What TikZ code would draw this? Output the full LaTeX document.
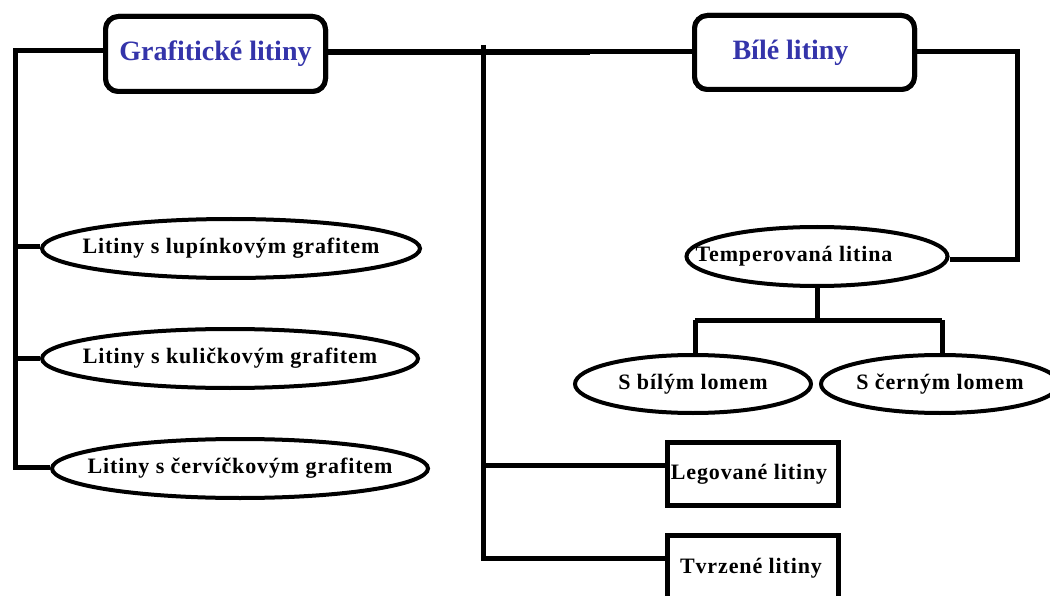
\documentclass[tikz,border=0pt]{standalone}
\usepackage{fontspec}
\setmainfont{Liberation Serif}
\newfontfamily\lbl[LetterSpace=4]{Liberation Serif}
\usetikzlibrary{shapes.geometric}
\definecolor{titleblue}{RGB}{52,52,170}
\newcommand{\zw}[1]{\makebox[0pt]{#1}}
\tikzset{
  conn/.style={line width=5pt, line join=miter},
  mainconn/.style={line width=6pt},
  titlebox/.style={draw, line width=5pt, rounded corners=13pt, fill=white,
    minimum width=220pt, inner sep=0pt,
    font=\fontsize{28}{30}\selectfont\bfseries, text=titleblue},
  oval/.style={draw, ellipse, line width=4pt, fill=white, inner sep=0pt,
    font=\lbl\fontsize{22}{24}\selectfont\bfseries},
  rectbox/.style={draw, line width=5pt, fill=white, inner sep=0pt,
    minimum width=171pt, font=\lbl\fontsize{22}{24}\selectfont\bfseries},
  plain/.style={inner sep=0pt, font=\lbl\fontsize{22}{24}\selectfont\bfseries}
}
\begin{document}
\begin{tikzpicture}[x=1pt,y=-1pt]
\useasboundingbox (0,0) rectangle (1050,596);
\clip (0,0) rectangle (1050,596);
\fill[white] (0,0) rectangle (1050,596);

% coordinates for connector corners
\coordinate (lt) at (15,51);
\coordinate (lb1) at (15,247);
\coordinate (lb2) at (15,358);
\coordinate (lb3) at (15,467);
\coordinate (mt) at (483,45);
\coordinate (mj) at (483,52);
\coordinate (m1) at (483,465);
\coordinate (m2) at (483,558);
\coordinate (rt) at (1017,52);
\coordinate (rb) at (1017,260);
\coordinate (tj) at (817,320);
\coordinate (tl) at (695,320);
\coordinate (tr) at (942,320);

% nodes
\node[titlebox, minimum height=75pt] (graf) at (215.5,54) {Grafitické litiny};
\node[titlebox, minimum height=74pt] (bile) at (804.5,52.5) {\hspace*{-28pt}Bílé litiny};

\node[oval, minimum width=378pt, minimum height=59pt] (e1) at (231,248.5) {\zw{Litiny s lupínkovým grafitem}};
\node[oval, minimum width=376pt, minimum height=59pt] (e2) at (230,358.5) {\zw{Litiny s kuličkovým grafitem}};
\node[oval, minimum width=376pt, minimum height=59pt] (e3) at (240,468.5) {\zw{Litiny s červíčkovým grafitem}};

\node[oval, minimum width=261pt, minimum height=59pt] (temp) at (817,256.5) {\hspace*{-46pt}\zw{Temperovaná litina}};

\node[oval, minimum width=236pt, minimum height=58pt] (bily) at (693,384) {\zw{S bílým lomem}};
\node[oval, minimum width=238pt, minimum height=58pt] (cerny) at (940,384) {\zw{S černým lomem}};

\node[rectbox, minimum height=63pt] (leg) at (753,474) {\hspace*{-8pt}\zw{Legované litiny}};
\node[rectbox, minimum height=100pt] (tvr) at (753,585) {};
\node[plain] (tvrtext) at (751,568) {Tvrzené litiny};

% connectors
\draw[conn] (graf.west |- lt) -- (lt) -- (lb3) -- (e3.west |- lb3);
\draw[conn] (lb1) -- (e1.west |- lb1);
\draw[conn] (lb2) -- (e2.west |- lb2);

\draw[mainconn] (graf.east |- mj) -- (590,52);
\draw[conn] (590,52) -- (bile.west |- mj);
\draw[conn] (mt) -- (m2) -- (tvr.west |- m2);
\draw[conn] (m1) -- (leg.west |- m1);

\draw[conn] (bile.east |- rt) -- (rt) -- (rb) -- (temp.east |- rb);
\draw[conn] (temp.south) -- (tj);
\draw[conn] (tl) -- (tr);
\draw[conn] (tl) -- (bily.north -| tl);
\draw[conn] (tr) -- (cerny.north -| tr);

% redraw title boxes on top of line ends
\node[titlebox, minimum height=75pt] at (graf) {Grafitické litiny};
\node[titlebox, minimum height=74pt] at (bile) {\hspace*{-28pt}Bílé litiny};
\end{tikzpicture}
\end{document}
